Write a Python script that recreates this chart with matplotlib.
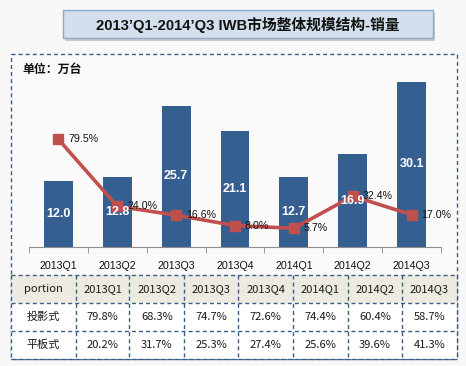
import matplotlib
matplotlib.use("Agg")
import matplotlib.pyplot as plt
from matplotlib.patches import Rectangle
import numpy as np

categories = ['2013Q1', '2013Q2', '2013Q3', '2013Q4', '2014Q1', '2014Q2', '2014Q3']
sales = [12.0, 12.8, 25.7, 21.1, 12.7, 16.9, 30.1]
growth = [79.5, 24.0, 16.6, 8.0, 5.7, 32.4, 17.0]
row_labels = ['投影式', '平板式']
projector_share = ['79.8%', '68.3%', '74.7%', '72.6%', '74.4%', '60.4%', '58.7%']
flat_share = ['20.2%', '31.7%', '25.3%', '27.4%', '25.6%', '39.6%', '41.3%']
header_first = 'portion'
title = '2013’Q1-2014’Q3 IWB市场整体规模结构-销量'
unit = '单位：万台'

W, H = 466, 366
BG = '#f8f8f8'
BAR = '#365f91'
LINE = '#c0504d'
DASH = '#3b5f86'
DASHSTYLE = (0, (2.9, 2.2))
CJK = ['Noto Sans CJK SC', 'DejaVu Sans']
LAT = ['Liberation Sans', 'Noto Sans CJK SC', 'DejaVu Sans']

fig = plt.figure(figsize=(W / 100, H / 100), dpi=100)
fig.patch.set_facecolor(BG)

# overlay axes in pixel coordinates
ov = fig.add_axes([0, 0, 1, 1])
ov.set_xlim(0, W)
ov.set_ylim(H, 0)
ov.axis('off')
ov.set_zorder(0)

# title box with shadow
ov.add_patch(Rectangle((65, 12.5), 370, 28, facecolor='#a5a5a5', edgecolor='none', alpha=0.55))
ov.add_patch(Rectangle((63, 10), 370, 28, facecolor='#d3dfec', edgecolor='#8eaacb', linewidth=1))
ov.text(248, 24.5, title, ha='center', va='center', fontsize=10.6, fontweight='bold',
        family=LAT, color='#111111')

# dashed outer box
x0, x1, y0, y1 = 11, 456.7, 54, 359
ov.add_patch(Rectangle((x0, y0), x1 - x0, y1 - y0, facecolor='#fafafa', edgecolor=DASH,
                       linewidth=1, linestyle=DASHSTYLE))
ov.text(22, 69, unit, ha='left', va='center', fontsize=8.6, fontweight='bold', family=CJK,
        color='#111111')

# table
xs = [11, 76, 129.3, 184.3, 238.3, 293.3, 347.7, 402.3, 456.7]
ys = [275, 302.7, 331, 359]
ov.add_patch(Rectangle((xs[0], ys[0]), xs[-1] - xs[0], ys[1] - ys[0], facecolor='#eceae1',
                       edgecolor='none'))
ov.add_patch(Rectangle((xs[0], ys[1]), xs[-1] - xs[0], ys[3] - ys[1], facecolor='white',
                       edgecolor='none'))
for xv in xs:
    ov.plot([xv, xv], [ys[0], ys[-1]], color=DASH, lw=1, ls=DASHSTYLE)
for yv in ys:
    ov.plot([xs[0], xs[-1]], [yv, yv], color=DASH, lw=1, ls=DASHSTYLE)
rows = [[header_first] + categories,
        [row_labels[0]] + projector_share,
        [row_labels[1]] + flat_share]
for r, row in enumerate(rows):
    yc = (ys[r] + ys[r + 1]) / 2
    for c, txt in enumerate(row):
        xc = (xs[c] + xs[c + 1]) / 2
        ov.text(xc, yc, txt, ha='center', va='center', fontsize=8, family=CJK,
                color='#1a1a1a')

# chart axes
L, R, B, T = 29, 441, 247, 72
ax = fig.add_axes([L / W, 1 - B / H, (R - L) / W, (B - T) / H])
ax.set_zorder(2)
ax.patch.set_visible(False)
n = len(categories)
x = np.arange(n)
ax.set_xlim(-0.5, n - 0.5)
ax.set_ylim(0, (B - T) / 5.49)
ax.bar(x, sales, width=0.49, color=BAR, zorder=2)
for s in ['top', 'left', 'right']:
    ax.spines[s].set_visible(False)
ax.spines['bottom'].set_color('#8c8c8c')
ax.set_yticks([])
ax.set_xticks(x)
ax.set_xticklabels(categories, fontsize=7.7, family=LAT, color='#111111')
ax.tick_params(axis='x', which='major', length=0, pad=10)
ax.set_xticks(np.arange(-0.5, n, 1), minor=True)
ax.tick_params(axis='x', which='minor', length=4, color='#8c8c8c', direction='out')

ax2 = ax.twinx()
ax2.set_zorder(3)
ax2.patch.set_visible(False)
ax2.set_xlim(-0.5, n - 0.5)
zero_px = 235.2
scale = 1.206
ax2.set_ylim(-(B - zero_px) / scale, (zero_px - T) / scale)
ax2.plot(x, growth, color=LINE, lw=2.6, marker='s', markersize=7.5, markerfacecolor=LINE,
         markeredgecolor=LINE, zorder=4)
for xi, g in zip(x, growth):
    ax2.annotate(f'{g:.1f}%', (xi, g), xytext=(7, 0), textcoords='offset points',
                 ha='left', va='center', fontsize=7.7, family=LAT, color='#111111', zorder=5)
for xi, v in zip(x, sales):
    ax2.text(xi, v / 2, f'{v:.1f}', ha='center', va='center', color='white',
             fontsize=9, fontweight='bold', family=LAT, zorder=6, transform=ax.transData)
ax2.axis('off')

fig.savefig('out.png', dpi=100, facecolor=fig.get_facecolor())
